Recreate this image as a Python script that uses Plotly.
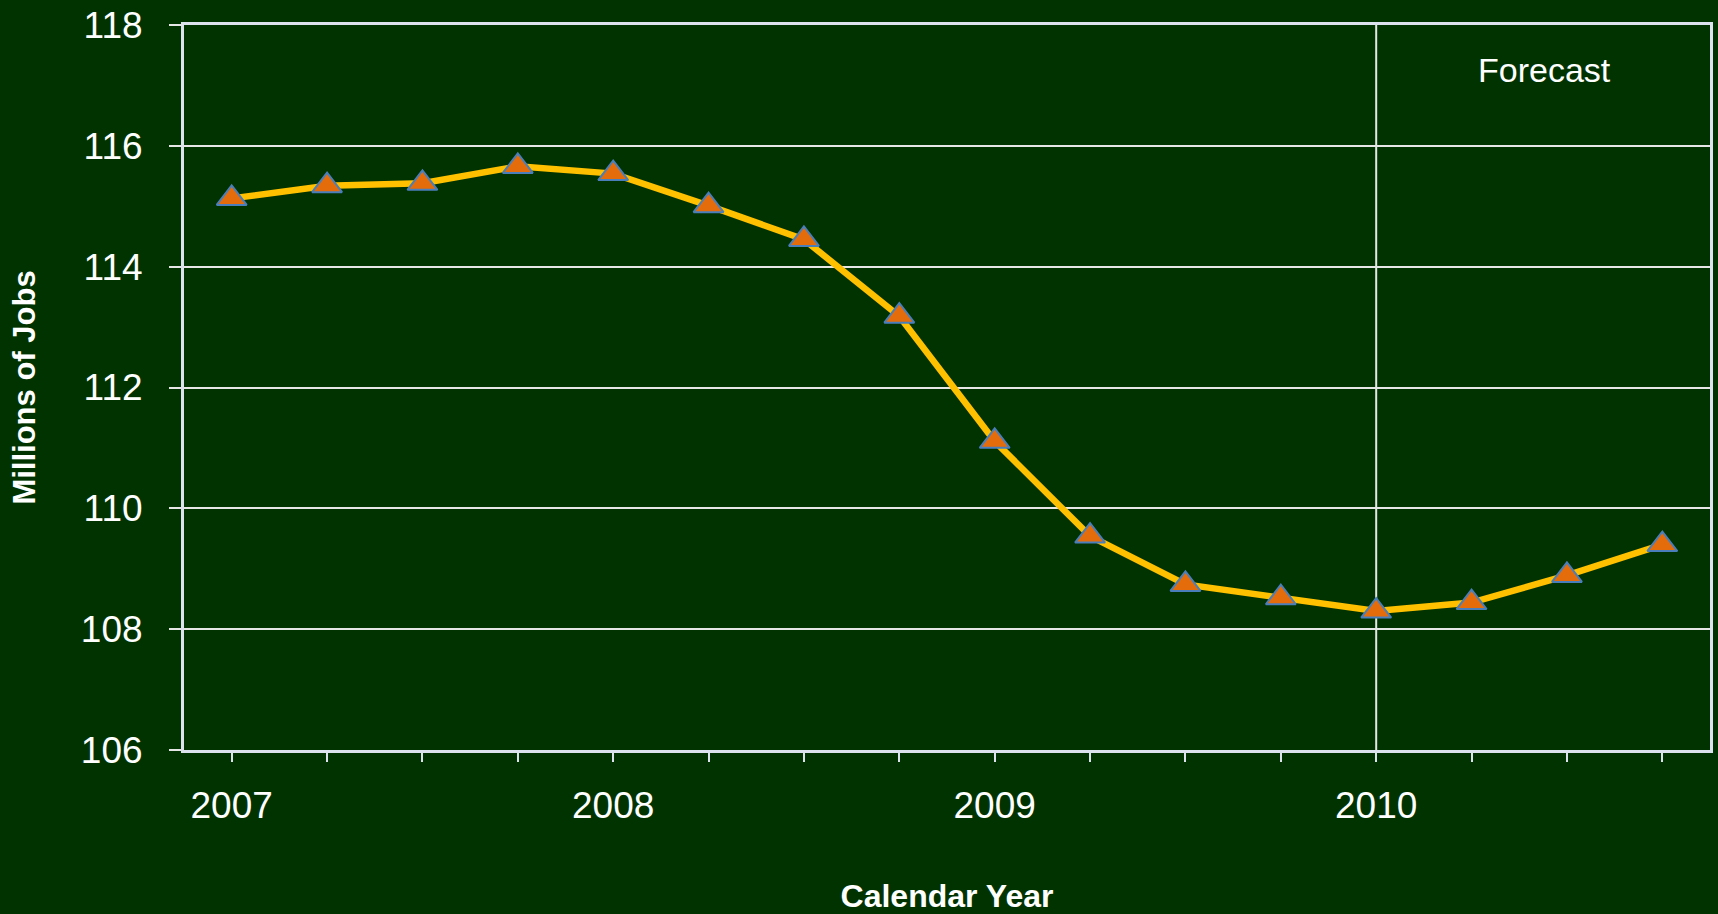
import plotly.graph_objects as go

# Quarterly employment, millions of jobs
quarters = [2007.00, 2007.25, 2007.50, 2007.75,
            2008.00, 2008.25, 2008.50, 2008.75,
            2009.00, 2009.25, 2009.50, 2009.75,
            2010.00, 2010.25, 2010.50, 2010.75]
jobs = [115.13, 115.34, 115.38, 115.66,
        115.54, 115.01, 114.45, 113.18,
        111.11, 109.54, 108.74, 108.52,
        108.30, 108.44, 108.89, 109.40]

year_labels = {2007.0: "2007", 2008.0: "2008", 2009.0: "2009", 2010.0: "2010"}
tick_text = [year_labels.get(q, "") for q in quarters]

forecast_start = 2010.0

BG = "#003300"
GRID = "#E6E6E6"
AXIS = "#DCE3EE"
FONT = "Liberation Sans, Arial, sans-serif"

fig = go.Figure()
fig.add_trace(go.Scatter(
    x=quarters, y=jobs, mode="lines+markers",
    line=dict(color="#FFC000", width=6.5),
    marker=dict(symbol="triangle-up", size=26, color="#E46C0A",
                line=dict(color="#4A7EBB", width=2)),
    hoverinfo="x+y", showlegend=False,
))

# Divider between actuals and forecast
fig.add_shape(type="line", xref="x", yref="paper",
              x0=forecast_start, x1=forecast_start, y0=0, y1=1,
              line=dict(color=GRID, width=2), layer="below")

fig.add_annotation(text="Forecast", xref="x", yref="y",
                   x=2010.44, y=117.25, showarrow=False,
                   font=dict(family=FONT, size=34, color="white"))

fig.update_layout(
    width=1718, height=914,
    margin=dict(l=184, r=5, t=23, b=154),
    paper_bgcolor=BG, plot_bgcolor=BG,
    font=dict(family=FONT, color="white"),
)

fig.update_xaxes(
    range=[2006.875, 2010.875],
    tickmode="array", tickvals=quarters, ticktext=tick_text,
    ticks="outside", ticklen=9, tickwidth=2, tickcolor=AXIS,
    tickfont=dict(size=37, color="white"),
    ticklabelstandoff=12,
    showgrid=False, zeroline=False,
    showline=True, linecolor=AXIS, linewidth=3, mirror=True,
    title=dict(text="Calendar Year", standoff=60,
               font=dict(size=32, color="white", weight="bold")),
)

fig.update_yaxes(
    range=[106, 118], dtick=2, tick0=106,
    ticks="outside", ticklen=12, tickwidth=2, tickcolor=GRID,
    tickfont=dict(size=37, color="white"),
    ticklabelstandoff=19,
    showgrid=True, gridcolor=GRID, gridwidth=2, zeroline=False,
    showline=True, linecolor=AXIS, linewidth=3, mirror=True,
    title=dict(text="Millions of Jobs", standoff=37,
               font=dict(size=31, color="white", weight="bold")),
)

fig.write_html("out.html")
